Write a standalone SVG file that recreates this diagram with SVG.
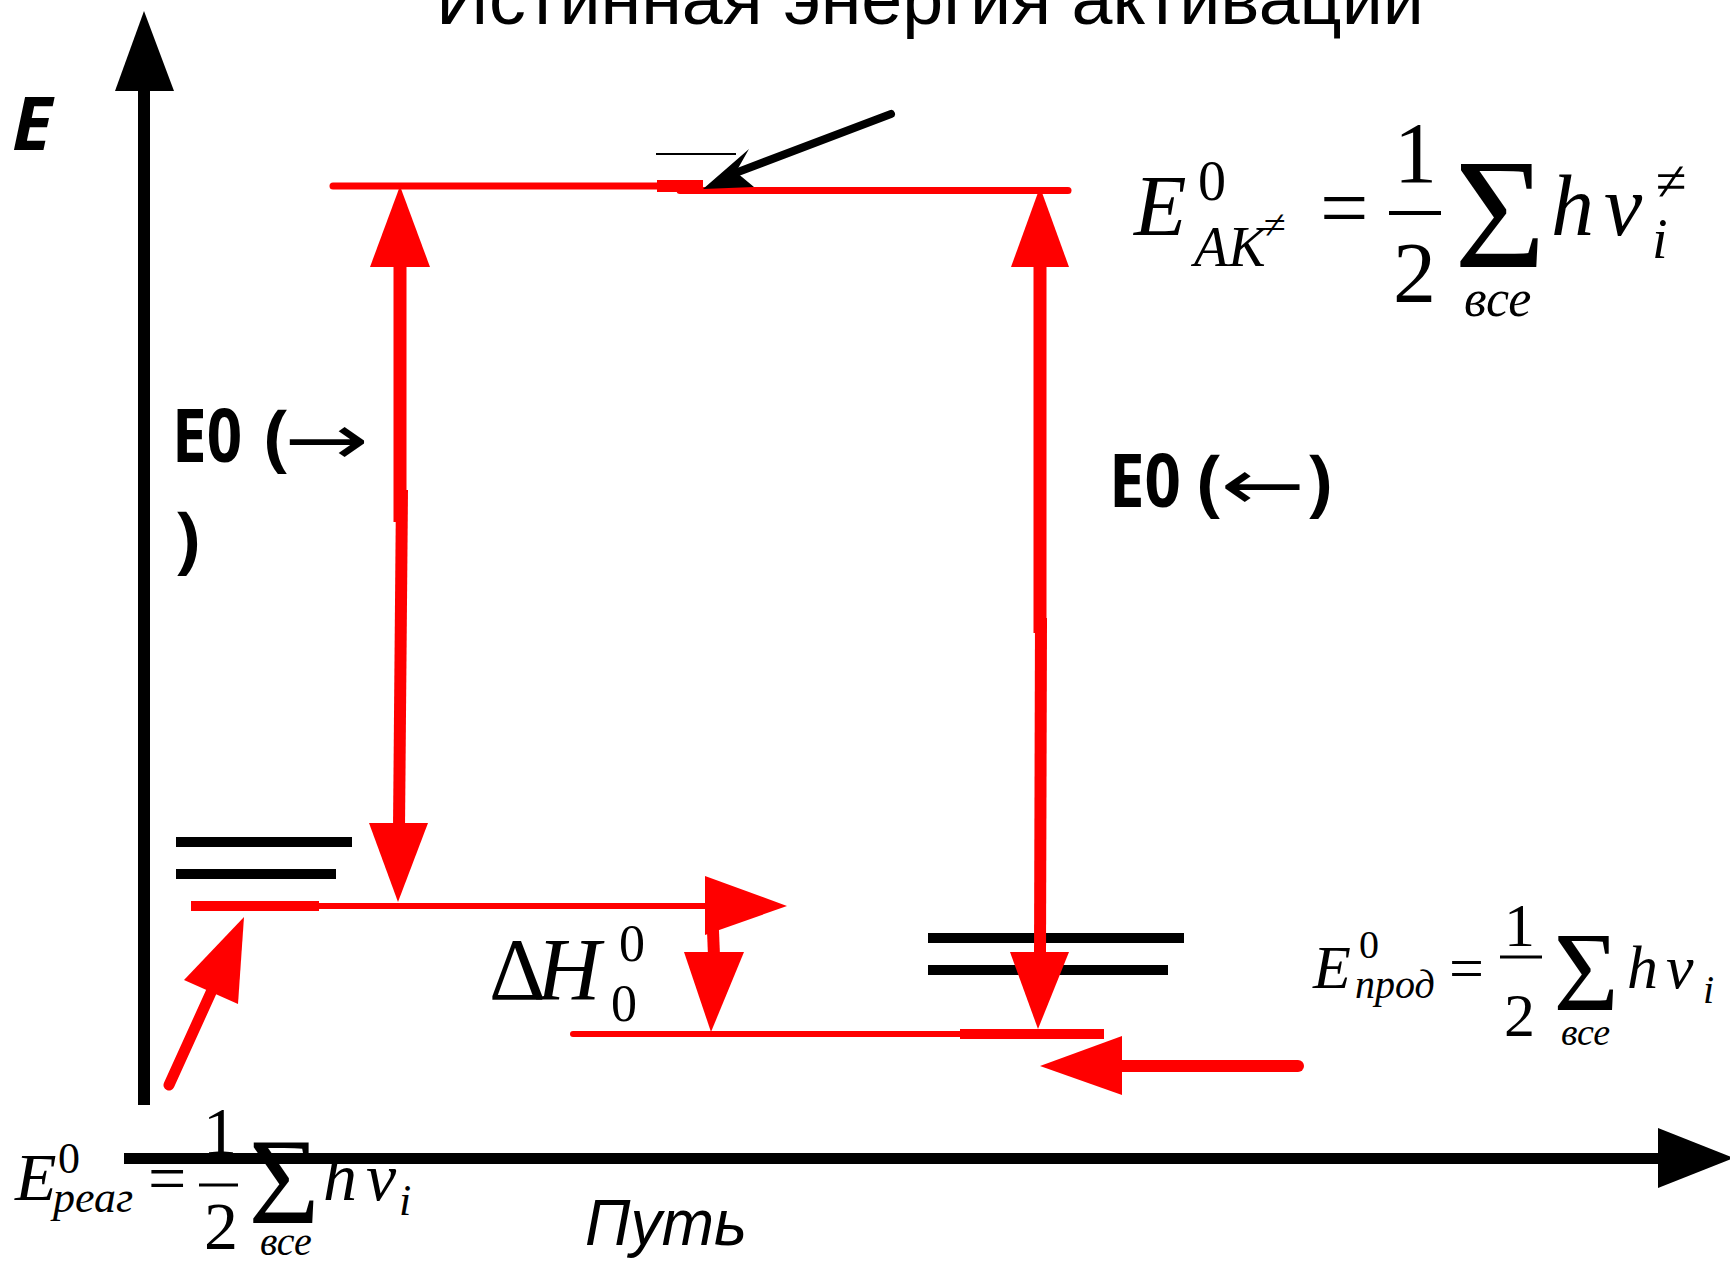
<svg xmlns="http://www.w3.org/2000/svg" width="1730" height="1262" viewBox="0 0 1730 1262">
<defs>
<style>
.m{font-family:"Liberation Serif","Times New Roman",serif;fill:#000}
.i{font-style:italic}
.rs{stroke:#ff0000;fill:none}
.rf{fill:#ff0000;stroke:none}
.bs{stroke:#000;fill:none}
.bf{fill:#000;stroke:none}
.lbl{font-family:"Open Sans","Liberation Sans",sans-serif;font-weight:700;font-size:74px;fill:#000}
.arr{font-family:"DejaVu Sans","Liberation Sans",sans-serif;font-size:70px;fill:#000}
.sans{font-family:"Liberation Sans",Arial,sans-serif;fill:#000}
</style>
</defs>
<rect width="1730" height="1262" fill="#ffffff"/>

<g id="title">
<text class="sans" x="436" y="24" font-size="72" textLength="988" lengthAdjust="spacingAndGlyphs">Истинная энергия активации</text>
</g>

<g id="axis-label-E">
<text class="lbl" x="12" y="150" font-size="66" font-style="italic">E</text>
</g>

<g id="axis-label-path">
<text class="sans" x="585" y="1245" font-size="64" font-style="italic" textLength="162" lengthAdjust="spacingAndGlyphs">Путь</text>
</g>

<g id="label-forward">
<text class="lbl" x="172" y="462" textLength="70" lengthAdjust="spacingAndGlyphs">E0</text>
<text class="lbl" x="264" y="462">(</text>
<text class="arr" transform="translate(284,464) scale(1.45,1)">→</text>
<text class="lbl" x="175" y="564">)</text>
</g>

<g id="label-backward">
<text class="lbl" x="1109" y="507" textLength="72" lengthAdjust="spacingAndGlyphs">E0</text>
<text class="lbl" x="1197" y="507">(</text>
<text class="arr" transform="translate(1220,509) scale(1.45,1)">←</text>
<text class="lbl" x="1307" y="507">)</text>
</g>

<g id="formula-activated-complex">
<text class="m i" x="1134" y="235" font-size="86">E</text>
<text class="m" x="1198" y="200" font-size="56">0</text>
<text class="m i" x="1194" y="266" font-size="56">AK</text>
<text class="m" x="1264" y="238" font-size="40">≠</text>
<text class="m" x="1320" y="237" font-size="86">=</text>
<text class="m" x="1394" y="182" font-size="86">1</text>
<line class="bs" x1="1389" y1="213" x2="1441" y2="213" stroke-width="4"/>
<text class="m" x="1393" y="302" font-size="86">2</text>
<text class="m" x="1500" y="267" font-size="157" text-anchor="middle">Σ</text>
<text class="m i" x="1464" y="316" font-size="52">все</text>
<text class="m i" x="1551" y="235" font-size="86">h</text>
<text class="m i" x="1604" y="235" font-size="86">ν</text>
<text class="m i" x="1652" y="258" font-size="56">i</text>
<text class="m" x="1656" y="200" font-size="56">≠</text>
</g>

<g id="formula-products">
<text class="m i" x="1313" y="988" font-size="62">E</text>
<text class="m" x="1359" y="958" font-size="40">0</text>
<text class="m i" x="1355" y="998" font-size="40">прод</text>
<text class="m" x="1449" y="989" font-size="62">=</text>
<text class="m" x="1504" y="946" font-size="62">1</text>
<line class="bs" x1="1500" y1="957" x2="1542" y2="957" stroke-width="3"/>
<text class="m" x="1504" y="1036" font-size="62">2</text>
<text class="m" x="1586" y="1010" font-size="112" text-anchor="middle">Σ</text>
<text class="m i" x="1561" y="1045" font-size="38">все</text>
<text class="m i" x="1627" y="988" font-size="62">h</text>
<text class="m i" x="1666" y="988" font-size="62">ν</text>
<text class="m i" x="1703" y="1003" font-size="40">i</text>
</g>

<g id="formula-reactants">
<text class="m i" x="15" y="1200" font-size="68">E</text>
<text class="m" x="58" y="1173" font-size="44">0</text>
<text class="m i" x="53" y="1212" font-size="44">реаг</text>
<text class="m" x="148" y="1201" font-size="68">=</text>
<text class="m" x="203" y="1154" font-size="68">1</text>
<line class="bs" x1="199" y1="1185" x2="238" y2="1185" stroke-width="3"/>
<text class="m" x="204" y="1249" font-size="68">2</text>
<text class="m" x="284" y="1223" font-size="122" text-anchor="middle">Σ</text>
<text class="m i" x="260" y="1255" font-size="40">все</text>
<text class="m i" x="323" y="1200" font-size="68">h</text>
<text class="m i" x="366" y="1200" font-size="68">ν</text>
<text class="m i" x="399" y="1215" font-size="44">i</text>
</g>

<g id="label-deltaH">
<text class="m" x="489" y="999" font-size="88">Δ</text>
<text class="m i" x="537" y="999" font-size="88">H</text>
<text class="m" x="619" y="961" font-size="52">0</text>
<text class="m" x="611" y="1021" font-size="52">0</text>
</g>

<g id="level-reactants">
<line class="bs" x1="176" y1="842" x2="352" y2="842" stroke-width="10"/>
<line class="bs" x1="176" y1="874" x2="336" y2="874" stroke-width="10"/>
<rect class="rf" x="191" y="901" width="128" height="10"/>
<line class="rs" x1="319" y1="906" x2="705" y2="906" stroke-width="6"/>
</g>

<g id="level-products">
<line class="bs" x1="928" y1="938" x2="1184" y2="938" stroke-width="10"/>
<line class="bs" x1="928" y1="970" x2="1168" y2="970" stroke-width="10"/>
<line class="rs" x1="573" y1="1034" x2="960" y2="1034" stroke-width="6" stroke-linecap="round"/>
<rect class="rf" x="960" y="1029" width="144" height="10"/>
</g>

<g id="level-activated-complex">
<line class="rs" x1="333" y1="186" x2="657" y2="186" stroke-width="7" stroke-linecap="round"/>
<rect class="rf" x="657" y="180" width="46" height="12"/>
<line class="rs" x1="680" y1="190.5" x2="1068" y2="190.5" stroke-width="7" stroke-linecap="round"/>
<line class="bs" x1="656" y1="154" x2="736" y2="154" stroke-width="2"/>
</g>

<g id="connectors">
<rect class="bf" x="138" y="88" width="12" height="1017"/>
<polygon class="bf" points="115,91 144,11 174,91"/>
<rect class="bf" x="124" y="1153" width="1540" height="11"/>
<polygon class="bf" points="1658,1128 1734,1158 1658,1188"/>
<line class="bs" x1="891" y1="114" x2="738" y2="172" stroke-width="8" stroke-linecap="round"/>
<polygon class="bf" points="703,189 749,149 736,172 754,187"/>
<line class="rs" x1="400" y1="262" x2="400" y2="522" stroke-width="13"/>
<line class="rs" x1="402" y1="490" x2="399" y2="828" stroke-width="12"/>
<polygon class="rf" points="370,267 400,186 430,267"/>
<polygon class="rf" points="369,823 428,823 398,902"/>
<line class="rs" x1="1040" y1="262" x2="1040" y2="633" stroke-width="13"/>
<line class="rs" x1="1041" y1="618" x2="1040" y2="957" stroke-width="12"/>
<polygon class="rf" points="1011,267 1040,187 1069,267"/>
<polygon class="rf" points="1010,952 1069,952 1038,1029"/>
<polygon class="rf" points="705,876 787,906 705,935"/>
<line class="rs" x1="712" y1="906" x2="714" y2="956" stroke-width="12"/>
<polygon class="rf" points="684,952 744,952 711,1032"/>
<line class="rs" x1="169" y1="1085" x2="213" y2="988" stroke-width="11" stroke-linecap="round"/>
<polygon class="rf" points="184,980 244,917 238,1004"/>
<line class="rs" x1="1298" y1="1066" x2="1118" y2="1066" stroke-width="12" stroke-linecap="round"/>
<polygon class="rf" points="1122,1036 1040,1066 1122,1095"/>
</g>
</svg>
